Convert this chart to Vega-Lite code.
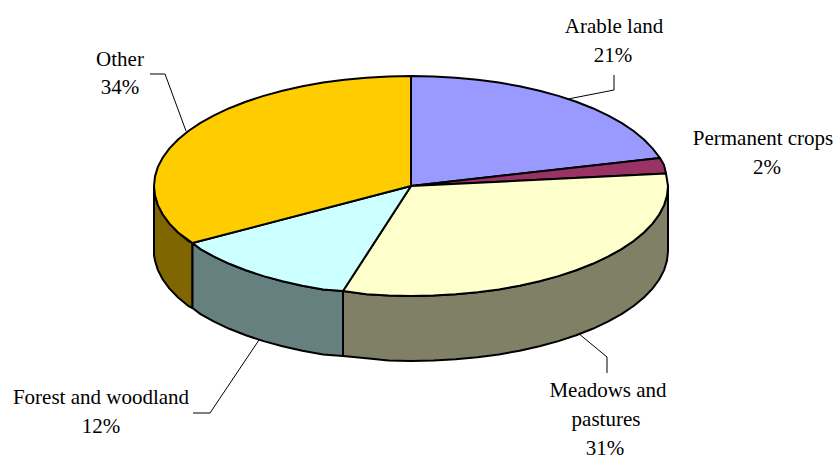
{"$schema":"https://vega.github.io/schema/vega-lite/v6.json","width":837,"height":455,"padding":0,"autosize":"none","background":"white","config":{"view":{"stroke":null}},
"datasets":{"shapes":[
{"part":"Other side","i":0,"x":154,"y":186},{"part":"Other side","i":1,"x":155,"y":195.6},{"part":"Other side","i":2,"x":157.9,"y":205.1},{"part":"Other side","i":3,"x":162.8,"y":214.5},{"part":"Other side","i":4,"x":169.5,"y":223.6},{"part":"Other side","i":5,"x":178.1,"y":232.5},{"part":"Other side","i":6,"x":188.4,"y":241},{"part":"Other side","i":7,"x":192.5,"y":243},{"part":"Other side","i":8,"x":192.5,"y":308},{"part":"Other side","i":9,"x":188.4,"y":306},{"part":"Other side","i":10,"x":178.1,"y":297.5},{"part":"Other side","i":11,"x":169.5,"y":288.6},{"part":"Other side","i":12,"x":162.8,"y":279.5},{"part":"Other side","i":13,"x":157.9,"y":270.1},{"part":"Other side","i":14,"x":155,"y":260.6},{"part":"Other side","i":15,"x":154,"y":255},{"part":"Other side","i":16,"x":154,"y":186},
{"part":"Forest side","i":0,"x":192.5,"y":243},{"part":"Forest side","i":1,"x":200.5,"y":249.1},{"part":"Forest side","i":2,"x":214.1,"y":256.7},{"part":"Forest side","i":3,"x":229.3,"y":263.8},{"part":"Forest side","i":4,"x":245.8,"y":270.3},{"part":"Forest side","i":5,"x":263.6,"y":276.1},{"part":"Forest side","i":6,"x":282.5,"y":281.3},{"part":"Forest side","i":7,"x":302.4,"y":285.7},{"part":"Forest side","i":8,"x":323.1,"y":289.4},{"part":"Forest side","i":9,"x":343,"y":291},{"part":"Forest side","i":10,"x":343,"y":356},{"part":"Forest side","i":11,"x":323.1,"y":354.4},{"part":"Forest side","i":12,"x":302.4,"y":350.7},{"part":"Forest side","i":13,"x":282.5,"y":346.3},{"part":"Forest side","i":14,"x":263.6,"y":341.1},{"part":"Forest side","i":15,"x":245.8,"y":335.3},{"part":"Forest side","i":16,"x":229.3,"y":328.8},{"part":"Forest side","i":17,"x":214.1,"y":321.7},{"part":"Forest side","i":18,"x":200.5,"y":314.1},{"part":"Forest side","i":19,"x":192.5,"y":308},{"part":"Forest side","i":20,"x":192.5,"y":243},
{"part":"Meadows side","i":0,"x":343,"y":291},{"part":"Meadows side","i":1,"x":366.4,"y":294.3},{"part":"Meadows side","i":2,"x":388.6,"y":295.6},{"part":"Meadows side","i":3,"x":411,"y":296},{"part":"Meadows side","i":4,"x":433.4,"y":295.6},{"part":"Meadows side","i":5,"x":455.6,"y":294.3},{"part":"Meadows side","i":6,"x":477.5,"y":292.2},{"part":"Meadows side","i":7,"x":498.9,"y":289.4},{"part":"Meadows side","i":8,"x":519.6,"y":285.7},{"part":"Meadows side","i":9,"x":539.5,"y":281.3},{"part":"Meadows side","i":10,"x":558.4,"y":276.1},{"part":"Meadows side","i":11,"x":576.2,"y":270.3},{"part":"Meadows side","i":12,"x":592.7,"y":263.8},{"part":"Meadows side","i":13,"x":607.9,"y":256.7},{"part":"Meadows side","i":14,"x":621.5,"y":249.1},{"part":"Meadows side","i":15,"x":633.6,"y":241},{"part":"Meadows side","i":16,"x":643.9,"y":232.5},{"part":"Meadows side","i":17,"x":652.5,"y":223.6},{"part":"Meadows side","i":18,"x":659.2,"y":214.5},{"part":"Meadows side","i":19,"x":664.1,"y":205.1},{"part":"Meadows side","i":20,"x":667,"y":195.6},{"part":"Meadows side","i":21,"x":668,"y":186},{"part":"Meadows side","i":22,"x":668,"y":251},{"part":"Meadows side","i":23,"x":667,"y":260.6},{"part":"Meadows side","i":24,"x":664.1,"y":270.1},{"part":"Meadows side","i":25,"x":659.2,"y":279.5},{"part":"Meadows side","i":26,"x":652.5,"y":288.6},{"part":"Meadows side","i":27,"x":643.9,"y":297.5},{"part":"Meadows side","i":28,"x":633.6,"y":306},{"part":"Meadows side","i":29,"x":621.5,"y":314.1},{"part":"Meadows side","i":30,"x":607.9,"y":321.7},{"part":"Meadows side","i":31,"x":592.7,"y":328.8},{"part":"Meadows side","i":32,"x":576.2,"y":335.3},{"part":"Meadows side","i":33,"x":558.4,"y":341.1},{"part":"Meadows side","i":34,"x":539.5,"y":346.3},{"part":"Meadows side","i":35,"x":519.6,"y":350.7},{"part":"Meadows side","i":36,"x":498.9,"y":354.4},{"part":"Meadows side","i":37,"x":477.5,"y":357.2},{"part":"Meadows side","i":38,"x":455.6,"y":359.3},{"part":"Meadows side","i":39,"x":433.4,"y":360.6},{"part":"Meadows side","i":40,"x":411,"y":361},{"part":"Meadows side","i":41,"x":388.6,"y":360.6},{"part":"Meadows side","i":42,"x":366.4,"y":358.3},{"part":"Meadows side","i":43,"x":343,"y":356},{"part":"Meadows side","i":44,"x":343,"y":291},
{"part":"Arable land","i":0,"x":411,"y":186},{"part":"Arable land","i":1,"x":411,"y":76},{"part":"Arable land","i":2,"x":433.4,"y":76.4},{"part":"Arable land","i":3,"x":455.6,"y":77.7},{"part":"Arable land","i":4,"x":477.5,"y":79.8},{"part":"Arable land","i":5,"x":498.9,"y":82.6},{"part":"Arable land","i":6,"x":519.6,"y":86.3},{"part":"Arable land","i":7,"x":539.5,"y":90.7},{"part":"Arable land","i":8,"x":558.4,"y":95.9},{"part":"Arable land","i":9,"x":576.2,"y":101.7},{"part":"Arable land","i":10,"x":592.7,"y":108.2},{"part":"Arable land","i":11,"x":607.9,"y":115.3},{"part":"Arable land","i":12,"x":621.5,"y":122.9},{"part":"Arable land","i":13,"x":633.6,"y":131},{"part":"Arable land","i":14,"x":643.9,"y":139.5},{"part":"Arable land","i":15,"x":652.5,"y":148.4},{"part":"Arable land","i":16,"x":660,"y":158},{"part":"Arable land","i":17,"x":411,"y":186},
{"part":"Permanent crops","i":0,"x":411,"y":186},{"part":"Permanent crops","i":1,"x":660,"y":158},{"part":"Permanent crops","i":2,"x":664,"y":165},{"part":"Permanent crops","i":3,"x":666,"y":173.5},{"part":"Permanent crops","i":4,"x":411,"y":186},
{"part":"Meadows and pastures","i":0,"x":411,"y":186},{"part":"Meadows and pastures","i":1,"x":666,"y":173.5},{"part":"Meadows and pastures","i":2,"x":668,"y":186},{"part":"Meadows and pastures","i":3,"x":667,"y":195.6},{"part":"Meadows and pastures","i":4,"x":664.1,"y":205.1},{"part":"Meadows and pastures","i":5,"x":659.2,"y":214.5},{"part":"Meadows and pastures","i":6,"x":652.5,"y":223.6},{"part":"Meadows and pastures","i":7,"x":643.9,"y":232.5},{"part":"Meadows and pastures","i":8,"x":633.6,"y":241},{"part":"Meadows and pastures","i":9,"x":621.5,"y":249.1},{"part":"Meadows and pastures","i":10,"x":607.9,"y":256.7},{"part":"Meadows and pastures","i":11,"x":592.7,"y":263.8},{"part":"Meadows and pastures","i":12,"x":576.2,"y":270.3},{"part":"Meadows and pastures","i":13,"x":558.4,"y":276.1},{"part":"Meadows and pastures","i":14,"x":539.5,"y":281.3},{"part":"Meadows and pastures","i":15,"x":519.6,"y":285.7},{"part":"Meadows and pastures","i":16,"x":498.9,"y":289.4},{"part":"Meadows and pastures","i":17,"x":477.5,"y":292.2},{"part":"Meadows and pastures","i":18,"x":455.6,"y":294.3},{"part":"Meadows and pastures","i":19,"x":433.4,"y":295.6},{"part":"Meadows and pastures","i":20,"x":411,"y":296},{"part":"Meadows and pastures","i":21,"x":388.6,"y":295.6},{"part":"Meadows and pastures","i":22,"x":366.4,"y":294.3},{"part":"Meadows and pastures","i":23,"x":343,"y":291},{"part":"Meadows and pastures","i":24,"x":411,"y":186},
{"part":"Forest and woodland","i":0,"x":411,"y":186},{"part":"Forest and woodland","i":1,"x":343,"y":291},{"part":"Forest and woodland","i":2,"x":323.1,"y":289.4},{"part":"Forest and woodland","i":3,"x":302.4,"y":285.7},{"part":"Forest and woodland","i":4,"x":282.5,"y":281.3},{"part":"Forest and woodland","i":5,"x":263.6,"y":276.1},{"part":"Forest and woodland","i":6,"x":245.8,"y":270.3},{"part":"Forest and woodland","i":7,"x":229.3,"y":263.8},{"part":"Forest and woodland","i":8,"x":214.1,"y":256.7},{"part":"Forest and woodland","i":9,"x":200.5,"y":249.1},{"part":"Forest and woodland","i":10,"x":192.5,"y":243},{"part":"Forest and woodland","i":11,"x":411,"y":186},
{"part":"Other","i":0,"x":411,"y":186},{"part":"Other","i":1,"x":192.5,"y":243},{"part":"Other","i":2,"x":178.1,"y":232.5},{"part":"Other","i":3,"x":169.5,"y":223.6},{"part":"Other","i":4,"x":162.8,"y":214.5},{"part":"Other","i":5,"x":157.9,"y":205.1},{"part":"Other","i":6,"x":155,"y":195.6},{"part":"Other","i":7,"x":154,"y":186},{"part":"Other","i":8,"x":155,"y":176.4},{"part":"Other","i":9,"x":157.9,"y":166.9},{"part":"Other","i":10,"x":162.8,"y":157.5},{"part":"Other","i":11,"x":169.5,"y":148.4},{"part":"Other","i":12,"x":178.1,"y":139.5},{"part":"Other","i":13,"x":188.4,"y":131},{"part":"Other","i":14,"x":200.5,"y":122.9},{"part":"Other","i":15,"x":214.1,"y":115.3},{"part":"Other","i":16,"x":229.3,"y":108.2},{"part":"Other","i":17,"x":245.8,"y":101.7},{"part":"Other","i":18,"x":263.6,"y":95.9},{"part":"Other","i":19,"x":282.5,"y":90.7},{"part":"Other","i":20,"x":302.4,"y":86.3},{"part":"Other","i":21,"x":323.1,"y":82.6},{"part":"Other","i":22,"x":344.5,"y":79.8},{"part":"Other","i":23,"x":366.4,"y":77.7},{"part":"Other","i":24,"x":388.6,"y":76.4},{"part":"Other","i":25,"x":411,"y":76},{"part":"Other","i":26,"x":411,"y":186}
],
"leaders":[
{"name":"Arable","i":0,"x":614,"y":75},{"name":"Arable","i":1,"x":614,"y":90},{"name":"Arable","i":2,"x":568,"y":99},
{"name":"Other","i":0,"x":150,"y":74},{"name":"Other","i":1,"x":165,"y":74},{"name":"Other","i":2,"x":186,"y":131},
{"name":"Forest","i":0,"x":193,"y":413},{"name":"Forest","i":1,"x":210,"y":413},{"name":"Forest","i":2,"x":259,"y":340},
{"name":"Meadows","i":0,"x":578,"y":333},{"name":"Meadows","i":1,"x":607,"y":357},{"name":"Meadows","i":2,"x":607,"y":373}
],
"labels":[
{"t":"Arable land","x":614,"y":27},{"t":"21%","x":613,"y":56},
{"t":"Permanent crops","x":763,"y":139},{"t":"2%","x":767,"y":168},
{"t":"Other","x":120,"y":60},{"t":"34%","x":120,"y":88},
{"t":"Forest and woodland","x":101,"y":398},{"t":"12%","x":101,"y":427},
{"t":"Meadows and","x":608,"y":391},{"t":"pastures","x":606,"y":420},{"t":"31%","x":605,"y":449}
]},
"layer":[
{"data":{"name":"leaders"},"mark":{"type":"line","stroke":"black","strokeWidth":1,"clip":false},"encoding":{"x":{"field":"x","type":"quantitative","scale":{"domain":[0,837]},"axis":null},"y":{"field":"y","type":"quantitative","scale":{"domain":[455,0]},"axis":null},"detail":{"field":"name"},"order":{"field":"i"}}},
{"data":{"name":"shapes"},"mark":{"type":"line","filled":true,"stroke":"black","strokeWidth":2,"strokeJoin":"round","clip":false},"encoding":{"x":{"field":"x","type":"quantitative","scale":{"domain":[0,837]},"axis":null},"y":{"field":"y","type":"quantitative","scale":{"domain":[455,0]},"axis":null},"order":{"field":"i"},"detail":{"field":"part"},"color":{"field":"part","type":"nominal","legend":null,"scale":{"domain":["Other side","Forest side","Meadows side","Arable land","Permanent crops","Meadows and pastures","Forest and woodland","Other"],"range":["#806600","#668080","#808066","#9999FF","#993366","#FFFFCC","#CCFFFF","#FFCC00"]}}}},
{"data":{"name":"labels"},"mark":{"type":"text","font":"Liberation Serif","fontSize":21,"color":"black","align":"center","baseline":"middle"},"encoding":{"x":{"field":"x","type":"quantitative","scale":{"domain":[0,837]},"axis":null},"y":{"field":"y","type":"quantitative","scale":{"domain":[455,0]},"axis":null},"text":{"field":"t"}}}
]}
